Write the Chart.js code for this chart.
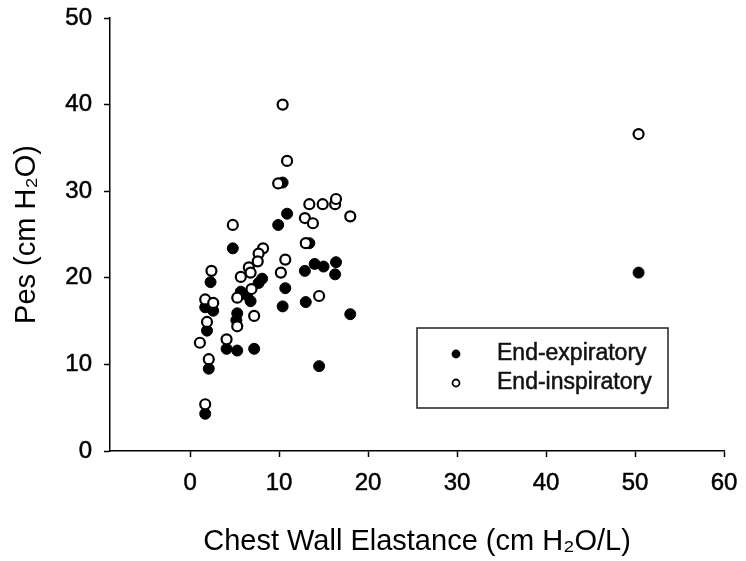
<!DOCTYPE html>
<html>
<head>
<meta charset="utf-8">
<script src="https://cdn.jsdelivr.net/npm/chart.js@4.4.1/dist/chart.umd.min.js"></script>
<style>
  html, body { margin: 0; padding: 0; background: #fff; }
  #wrap { width: 746px; height: 561px; }
</style>
</head>
<body>
<div id="wrap"><canvas id="chart"></canvas></div>
<script>
// values
const expX = [10.4, 10.9, 9.9, 4.8, 13.4, 14.0, 15.0, 16.4, 12.9, 16.3, 8.1, 7.7, 2.3, 10.7, 5.7, 6.4, 6.8, 1.7, 2.6, 5.3, 5.2, 10.4, 13.0, 18.0, 1.9, 4.1, 5.3, 7.2, 2.1, 14.5, 1.7, 50.4];
const expY = [31.0, 27.4, 26.1, 23.4, 24.0, 21.6, 21.3, 21.8, 20.8, 20.4, 19.9, 19.4, 19.5, 18.8, 18.4, 18.0, 17.3, 16.6, 16.2, 15.9, 15.1, 16.7, 17.2, 15.8, 13.9, 11.8, 11.6, 11.8, 9.5, 9.8, 4.3, 20.6];

const inspX = [10.4, 10.9, 9.9, 13.4, 14.9, 16.3, 16.4, 18.0, 12.9, 13.8, 4.8, 13.0, 8.2, 7.7, 7.6, 10.7, 6.6, 6.8, 5.7, 10.2, 2.4, 1.7, 2.6, 5.3, 6.9, 14.5, 7.2, 1.9, 5.3, 1.1, 4.1, 2.1, 1.7, 50.4];
const inspY = [40.0, 33.5, 30.9, 28.5, 28.5, 28.5, 29.1, 27.1, 26.9, 26.3, 26.1, 24.0, 23.4, 22.8, 21.9, 22.1, 21.2, 20.6, 20.1, 20.6, 20.8, 17.5, 17.1, 17.7, 18.7, 17.9, 15.6, 14.9, 14.4, 12.5, 12.9, 10.6, 5.4, 36.6];

const xTicks = [0, 10, 20, 30, 40, 50, 60];
const yTicks = [0, 10, 20, 30, 40, 50];

const seriesNames = ['End-expiratory', 'End-inspiratory'];

const FONT = '"Liberation Sans", Arial, "DejaVu Sans", sans-serif';

const toPoints = (xs, ys) => xs.map((x, i) => ({ x: x, y: ys[i] }));

// legend box drawn inside the plot, like the original figure
const boxLegend = {
  id: 'boxLegend',
  afterDraw(chart) {
    const ctx = chart.ctx;
    const left = 417, top = 328, w = 251, h = 80;
    ctx.save();
    ctx.strokeStyle = '#222';
    ctx.lineWidth = 1.5;
    ctx.strokeRect(left, top, w, h);
    ctx.font = '23px ' + FONT;
    ctx.textBaseline = 'middle';
    const order = [1, 0];
    order.forEach((idx, row) => {
      const ds = chart.data.datasets[idx];
      const cy = top + 26 + row * 29;
      ctx.beginPath();
      ctx.arc(left + 39, cy, 3.5, 0, Math.PI * 2);
      ctx.fillStyle = ds.backgroundColor;
      ctx.fill();
      ctx.lineWidth = 1.8;
      ctx.strokeStyle = '#000';
      ctx.stroke();
      ctx.fillStyle = '#111';
      ctx.lineWidth = 0.5;
      ctx.strokeStyle = '#111';
      ctx.strokeText(ds.label, left + 80, cy);
      ctx.fillText(ds.label, left + 80, cy);
    });
    ctx.restore();
  }
};

new Chart(document.getElementById('chart'), {
  type: 'scatter',
  data: {
    datasets: [
      {
        label: seriesNames[1],
        data: toPoints(inspX, inspY),
        backgroundColor: '#fff',
        borderColor: '#000',
        borderWidth: 2.2,
        pointRadius: 5,
        pointHoverRadius: 5
      },
      {
        label: seriesNames[0],
        data: toPoints(expX, expY),
        backgroundColor: '#000',
        borderColor: '#000',
        borderWidth: 1,
        pointRadius: 5.5,
        pointHoverRadius: 5.5
      }
    ]
  },
  options: {
    responsive: true,
    maintainAspectRatio: false,
    animation: false,
    layout: { padding: { top: 18, right: 22, left: 0, bottom: 0 } },
    plugins: {
      legend: { display: false },
      tooltip: { enabled: false }
    },
    scales: {
      x: {
        type: 'linear',
        min: -9,
        max: 60,
        afterBuildTicks: (scale) => { scale.ticks = xTicks.map(v => ({ value: v })); },
        afterFit: (scale) => {
          scale.height = 110;
          scale.paddingLeft = 0;
          scale.paddingRight = 0;
        },
        grid: { drawOnChartArea: false, drawTicks: true, tickLength: 6, color: '#000', tickWidth: 1.5 },
        border: { display: true, color: '#000', width: 1.5 },
        ticks: {
          color: '#000', padding: 12, maxRotation: 0,
          textStrokeColor: '#000', textStrokeWidth: 0.5,
          font: { family: FONT, size: 24 }
        },
        title: {
          display: true,
          text: 'Chest Wall Elastance (cm H₂O/L)',
          color: '#000',
          font: { family: FONT, size: 29 },
          padding: { top: 0, bottom: 2 }
        }
      },
      y: {
        type: 'linear',
        min: 0,
        max: 50,
        afterBuildTicks: (scale) => { scale.ticks = yTicks.map(v => ({ value: v })); },
        afterFit: (scale) => {
          scale.width = 110;
          scale.paddingTop = 0;
          scale.paddingBottom = 0;
        },
        grid: { drawOnChartArea: false, drawTicks: true, tickLength: 6, color: '#000', tickWidth: 1.5 },
        border: { display: true, color: '#000', width: 1.5 },
        ticks: {
          color: '#000', padding: 12,
          textStrokeColor: '#000', textStrokeWidth: 0.5,
          font: { family: FONT, size: 24 }
        },
        title: {
          display: true,
          text: 'Pes (cm H₂O)',
          color: '#000',
          font: { family: FONT, size: 29 },
          padding: { top: 10, bottom: 0 }
        }
      }
    }
  },
  plugins: [boxLegend]
});
</script>
</body>
</html>
